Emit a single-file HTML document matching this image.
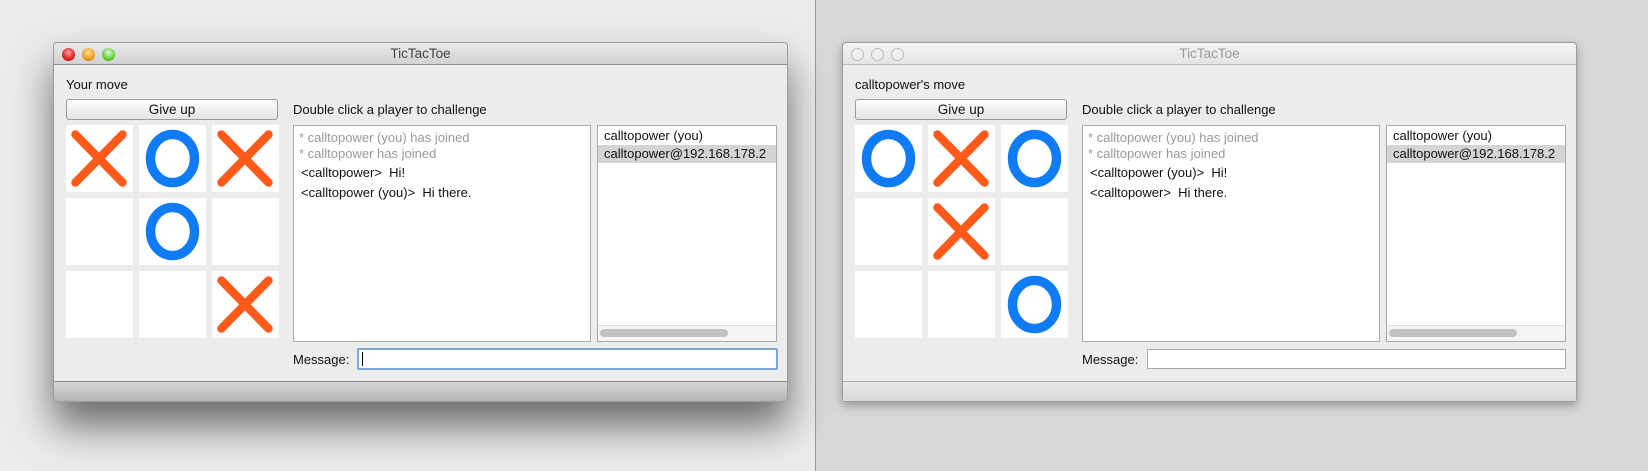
<!DOCTYPE html>
<html><head><style>
*{margin:0;padding:0;box-sizing:border-box}
body{width:1648px;height:471px;overflow:hidden;position:relative;background:#ebebeb;font-family:"Liberation Sans",sans-serif;font-size:13px;color:#111}
.rbg{position:absolute;left:815px;top:0;width:833px;height:471px;background:#d8d8d8;border-left:1px solid #9a9a9a}
.win{position:absolute;top:42px;width:735px;height:360px;background:#ececec;border:1px solid #9c9c9c;border-radius:4px 4px 3px 3px}
.w1{left:53px;box-shadow:0 24px 40px rgba(0,0,0,.55)}
.w2{left:842px;box-shadow:0 4px 10px rgba(0,0,0,.3)}
.tb{position:absolute;left:0;top:0;width:100%;height:22px;background:linear-gradient(#eaeaea,#d2d2d2);border-bottom:1px solid #8e8e8e;border-radius:4px 4px 0 0;text-align:center;line-height:22px;font-size:13.5px;color:#444}
.w2 .tb{color:#999;background:linear-gradient(#f4f4f4,#e4e4e4);border-bottom-color:#bbb}
.dot{position:absolute;top:5px;width:13px;height:13px;border-radius:50%}
.bb{position:absolute;left:0;bottom:0;width:100%;height:20px;background:linear-gradient(#d6d6d6,#b4b4b4);border-top:1px solid #8c8c8c}
.w2 .bb{background:linear-gradient(#e8e8e8,#d8d8d8);border-top-color:#aaa}
.a{position:absolute;white-space:nowrap}
.btn{position:absolute;left:12px;top:56px;width:212px;height:21px;border:1px solid #9a9a9a;border-radius:3px;background:linear-gradient(#fcfcfc,#e4e4e4);text-align:center;line-height:19px;font-size:13.5px}
.cell{position:absolute;width:67px;height:67px;background:#fff}
.cell svg{width:67px;height:67px}
.box{position:absolute;background:#fff;border:1px solid #aaa}
.g{color:#999}
</style></head><body>
<div class="rbg"></div>

<div class="win w1">
 <div class="tb">TicTacToe
  <div class="dot" style="left:8px;background:radial-gradient(circle at 50% 35%,#f99,#d22 60%,#900)"></div>
  <div class="dot" style="left:28px;background:radial-gradient(circle at 50% 35%,#fd9,#e9a020 60%,#a60)"></div>
  <div class="dot" style="left:48px;background:radial-gradient(circle at 50% 35%,#dfd,#6c3 60%,#383)"></div>
 </div>
 <div class="a" style="left:12px;top:34px">Your move</div>
 <div class="btn">Give up</div>
 <div class="a" style="left:239px;top:59px">Double click a player to challenge</div>
 <div class="cell" style="left:12px;top:82px"><svg viewBox="0 0 64 64"><path d="M9 9L54 55M54 9L9 55" stroke="#ff5a1a" stroke-width="8" stroke-linecap="round"/></svg></div>
 <div class="cell" style="left:85px;top:82px"><svg viewBox="0 0 64 64"><ellipse cx="32" cy="32" rx="21" ry="23" fill="none" stroke="#0f7cf5" stroke-width="9"/></svg></div>
 <div class="cell" style="left:158px;top:82px"><svg viewBox="0 0 64 64"><path d="M9 9L54 55M54 9L9 55" stroke="#ff5a1a" stroke-width="8" stroke-linecap="round"/></svg></div>
 <div class="cell" style="left:12px;top:155px"></div>
 <div class="cell" style="left:85px;top:155px"><svg viewBox="0 0 64 64"><ellipse cx="32" cy="32" rx="21" ry="23" fill="none" stroke="#0f7cf5" stroke-width="9"/></svg></div>
 <div class="cell" style="left:158px;top:155px"></div>
 <div class="cell" style="left:12px;top:228px"></div>
 <div class="cell" style="left:85px;top:228px"></div>
 <div class="cell" style="left:158px;top:228px"><svg viewBox="0 0 64 64"><path d="M9 9L54 55M54 9L9 55" stroke="#ff5a1a" stroke-width="8" stroke-linecap="round"/></svg></div>
 <div class="box" style="left:239px;top:82px;width:298px;height:217px">
  <div class="a g" style="left:5px;top:4px">* calltopower (you) has joined</div>
  <div class="a g" style="left:5px;top:20px">* calltopower has joined</div>
  <div class="a" style="left:7px;top:39px">&lt;calltopower&gt;&nbsp; Hi!</div>
  <div class="a" style="left:7px;top:59px">&lt;calltopower (you)&gt;&nbsp; Hi there.</div>
 </div>
 <div class="box" style="left:543px;top:82px;width:180px;height:217px;overflow:hidden">
  <div class="a" style="left:6px;top:2px">calltopower (you)</div>
  <div class="a" style="left:0;top:19px;width:180px;height:18px;background:#d4d4d4;padding-left:6px;line-height:18px">calltopower@192.168.178.2</div>
  <div class="a" style="left:0;top:199px;width:180px;height:17px;background:#f4f4f4;border-top:1px solid #e0e0e0"></div>
  <div class="a" style="left:2px;top:203px;width:128px;height:8px;border-radius:4px;background:#c2c2c2"></div>
 </div>
 <div class="a" style="left:239px;top:309px">Message:</div>
 <div class="a" style="left:303px;top:305px;width:421px;height:22px;background:#fff;border:2px solid #7aa7d8;border-radius:2px"><div style="position:absolute;left:3px;top:2px;width:1px;height:14px;background:#000"></div></div>
 <div class="bb"></div>
</div>

<div class="win w2">
 <div class="tb">TicTacToe
  <div class="dot" style="left:8px;border:1px solid #bbb;background:#eee"></div>
  <div class="dot" style="left:28px;border:1px solid #bbb;background:#eee"></div>
  <div class="dot" style="left:48px;border:1px solid #bbb;background:#eee"></div>
 </div>
 <div class="a" style="left:12px;top:34px">calltopower's move</div>
 <div class="btn">Give up</div>
 <div class="a" style="left:239px;top:59px">Double click a player to challenge</div>
 <div class="cell" style="left:12px;top:82px"><svg viewBox="0 0 64 64"><ellipse cx="32" cy="32" rx="21" ry="23" fill="none" stroke="#0f7cf5" stroke-width="9"/></svg></div>
 <div class="cell" style="left:85px;top:82px"><svg viewBox="0 0 64 64"><path d="M9 9L54 55M54 9L9 55" stroke="#ff5a1a" stroke-width="8" stroke-linecap="round"/></svg></div>
 <div class="cell" style="left:158px;top:82px"><svg viewBox="0 0 64 64"><ellipse cx="32" cy="32" rx="21" ry="23" fill="none" stroke="#0f7cf5" stroke-width="9"/></svg></div>
 <div class="cell" style="left:12px;top:155px"></div>
 <div class="cell" style="left:85px;top:155px"><svg viewBox="0 0 64 64"><path d="M9 9L54 55M54 9L9 55" stroke="#ff5a1a" stroke-width="8" stroke-linecap="round"/></svg></div>
 <div class="cell" style="left:158px;top:155px"></div>
 <div class="cell" style="left:12px;top:228px"></div>
 <div class="cell" style="left:85px;top:228px"></div>
 <div class="cell" style="left:158px;top:228px"><svg viewBox="0 0 64 64"><ellipse cx="32" cy="32" rx="21" ry="23" fill="none" stroke="#0f7cf5" stroke-width="9"/></svg></div>
 <div class="box" style="left:239px;top:82px;width:298px;height:217px">
  <div class="a g" style="left:5px;top:4px">* calltopower (you) has joined</div>
  <div class="a g" style="left:5px;top:20px">* calltopower has joined</div>
  <div class="a" style="left:7px;top:39px">&lt;calltopower (you)&gt;&nbsp; Hi!</div>
  <div class="a" style="left:7px;top:59px">&lt;calltopower&gt;&nbsp; Hi there.</div>
 </div>
 <div class="box" style="left:543px;top:82px;width:180px;height:217px;overflow:hidden">
  <div class="a" style="left:6px;top:2px">calltopower (you)</div>
  <div class="a" style="left:0;top:19px;width:180px;height:18px;background:#d4d4d4;padding-left:6px;line-height:18px">calltopower@192.168.178.2</div>
  <div class="a" style="left:0;top:199px;width:180px;height:17px;background:#f4f4f4;border-top:1px solid #e0e0e0"></div>
  <div class="a" style="left:2px;top:203px;width:128px;height:8px;border-radius:4px;background:#c2c2c2"></div>
 </div>
 <div class="a" style="left:239px;top:309px">Message:</div>
 <div class="a" style="left:304px;top:306px;width:419px;height:20px;background:#fff;border:1px solid #a8a8a8"></div>
 <div class="bb"></div>
</div>
</body></html>
